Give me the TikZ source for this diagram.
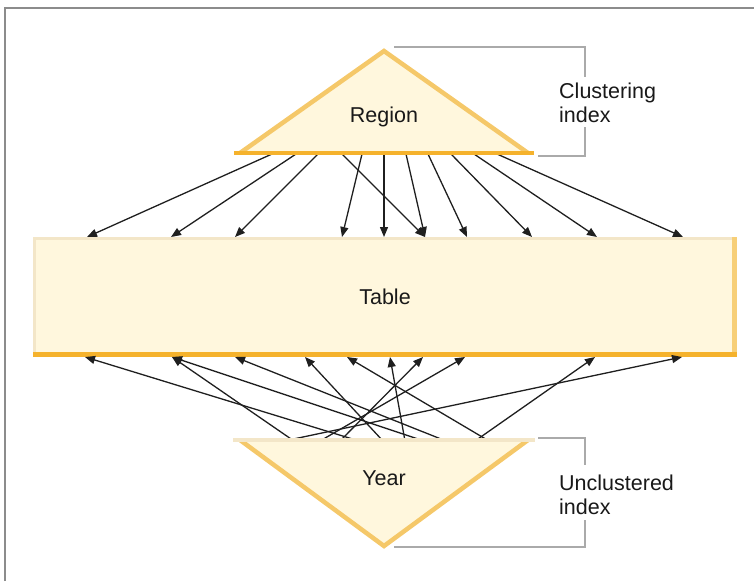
\documentclass[tikz,border=0pt]{standalone}
\usepackage{fontspec}
\setmainfont{Liberation Sans}
\usetikzlibrary{arrows.meta}
\definecolor{cream}{HTML}{FFF7DD}
\definecolor{gold}{HTML}{F5C869}
\definecolor{deepgold}{HTML}{F5B22C}
\definecolor{tanedge}{HTML}{F3E6C8}
\definecolor{sidegold}{HTML}{F7CF78}
\definecolor{brk}{HTML}{AAAAAA}
\definecolor{framegray}{HTML}{8C8C8C}
\tikzset{
  lbl/.style={font=\fontsize{21.5}{25}\selectfont, inner sep=0pt, text=black!90},
  conn/.style={line width=1.3pt, draw=black!88, -{Triangle[length=10pt,width=8pt]}},
  brkline/.style={draw=brk, line width=1.3pt},
  tablebox/.style={fill=cream, minimum width=704pt, minimum height=120pt, inner sep=0pt, lbl}
}
\begin{document}
\begin{tikzpicture}[x=1pt,y=-1pt]
\useasboundingbox (0,0) rectangle (754,581);
% frame
\draw[framegray, line width=2pt] (5,581) -- (5,8) -- (754,8);
% table
\node[tablebox] (table) at (385,297) {Table};
\fill[tanedge] (table.north west) rectangle ([yshift=-3pt]table.north east);
\fill[tanedge] (table.north west) rectangle ([xshift=3pt]table.south west);
\fill[sidegold] ([xshift=-5pt]table.north east) rectangle (table.south east);
\fill[deepgold] ([yshift=5pt]table.south west) rectangle (table.south east);
% coordinates
\foreach \i/\x in {1/272,2/296,3/318,4/342,5/362,6/384,7/406,8/428,9/451,10/474,11/497}
  \coordinate (rs\i) at (\x,154);
\foreach \i/\x in {1/87,2/171,3/235,4/342,5/384,6/425,7/467,8/532,9/597,10/683}
  \coordinate (rt\i) at (\x,237);
\foreach \i/\x in {1/284,2/294,3/320,4/340,5/359,6/383,7/405,8/424,9/446,10/475,11/489}
  \coordinate (ys\i) at (\x,441);
\foreach \i/\x in {1/85,2/172,3/235,4/305,5/347,6/390,7/423,8/465,9/595,10/682}
  \coordinate (yt\i) at (\x,357);
% top arrows
\foreach \s/\t in {1/1,2/2,3/3,4/6,5/4,6/5,7/6,8/7,9/8,10/9,11/10}
  \draw[conn] (rs\s) -- (rt\t);
% bottom arrows
\foreach \s/\t in {1/10,2/2,3/8,4/7,5/1,6/4,7/6,8/2,9/3,10/9,11/5}
  \draw[conn] (ys\s) -- (yt\t);
% region triangle
\coordinate (ra) at (384,51);
\coordinate (rl) at (240,153);
\coordinate (rr) at (528,153);
\fill[cream] (ra) -- (rr) -- (rl) -- cycle;
\draw[gold, line width=4.5pt, line join=miter] (rl) -- (ra) -- (rr);
\draw[deepgold, line width=4.5pt] ([xshift=-6pt]rl) -- ([xshift=6pt]rr);
\node[lbl] (region) at (384,117) {Region};
% year triangle
\coordinate (ya) at (384,546);
\coordinate (yl) at (240,440);
\coordinate (yr) at (528,440);
\fill[cream] (yl) -- (yr) -- (ya) -- cycle;
\draw[gold, line width=4.5pt, line join=miter] (yl) -- (ya) -- (yr);
\draw[tanedge, line width=3.5pt] ([xshift=-7pt]yl) -- ([xshift=7pt]yr);
\node[lbl] (year) at (384,478) {Year};
% brackets and side labels
\draw[brkline] (394,47) -- (585,47) -- (585,77);
\draw[brkline] (585,127) -- (585,156) -- (538,156);
\node[lbl, anchor=base west] (clus1) at (559,98) {Clustering};
\node[lbl, anchor=base west] (clus2) at (559,122) {index};
\draw[brkline] (538,438) -- (585,438) -- (585,465);
\draw[brkline] (585,520) -- (585,547) -- (394,547);
\node[lbl, anchor=base west] (unc1) at (559,490) {Unclustered};
\node[lbl, anchor=base west] (unc2) at (559,514) {index};
\end{tikzpicture}
\end{document}
